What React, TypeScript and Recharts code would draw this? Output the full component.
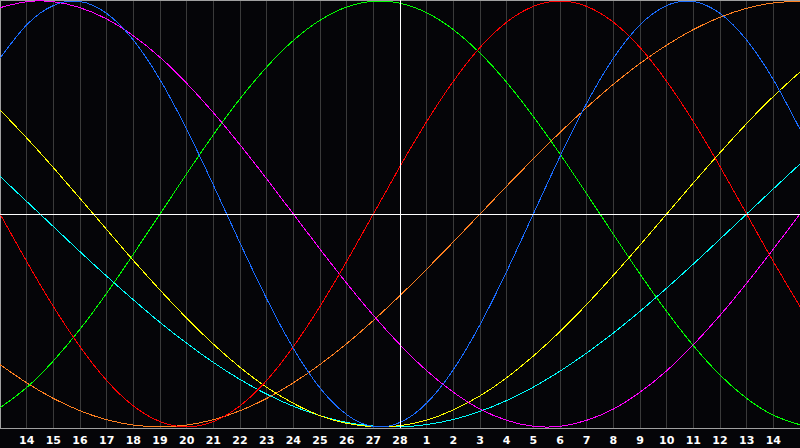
import React from 'react';
import {
  LineChart,
  Line,
  XAxis,
  YAxis,
  CartesianGrid,
  ReferenceLine,
} from 'recharts';

// Day labels along the bottom (first and last columns have no label)
const days = [
  '13', '14', '15', '16', '17', '18', '19', '20', '21', '22', '23', '24', '25', '26', '27', '28',
  '1', '2', '3', '4', '5', '6', '7', '8', '9', '10', '11', '12', '13', '14', '15',
];

// Cycle values, one per day, -100 .. 100
const physical = [
  73.1, 88.8, 97.9, 99.8, 94.2, 81.7, 63.1, 39.8, 13.6, -13.6, -39.8, -63.1, -81.7, -94.2, -99.8, -97.9,
  -88.8, -73.1, -52.0, -27.0, 0, 27.0, 52.0, 73.1, 88.8, 97.9, 99.8, 94.2, 81.7, 63.1, 39.8,
];
const emotional = [
  0, -22.3, -43.4, -62.3, -78.2, -90.1, -97.5, -100, -97.5, -90.1, -78.2, -62.3, -43.4, -22.3, 0, 22.3,
  43.4, 62.3, 78.2, 90.1, 97.5, 100, 97.5, 90.1, 78.2, 62.3, 43.4, 22.3, 0, -22.3, -43.4,
];
const intellectual = [
  -91.0, -81.5, -69.0, -54.1, -37.2, -18.9, 0, 18.9, 37.2, 54.1, 69.0, 81.5, 91.0, 97.2, 99.9, 99.0,
  94.5, 86.6, 75.6, 61.8, 45.8, 28.2, 9.5, -9.5, -28.2, -45.8, -61.8, -75.6, -86.6, -94.5, -99.0,
];
const intuitive = [
  96.9, 99.7, 99.7, 96.9, 91.6, 83.7, 73.6, 61.4, 47.6, 32.5, 16.5, 0, -16.5, -32.5, -47.6, -61.4,
  -73.6, -83.7, -91.6, -96.9, -99.7, -99.7, -96.9, -91.6, -83.7, -73.6, -61.4, -47.6, -32.5, -16.5, 0,
];
const aesthetic = [
  48.9, 35.7, 21.8, 7.3, -7.3, -21.8, -35.7, -48.9, -61.1, -72.0, -81.4, -88.9, -94.7, -98.3, -99.9, -99.4,
  -96.8, -92.0, -85.4, -76.9, -66.7, -55.2, -42.5, -28.8, -14.6, 0, 14.6, 28.8, 42.5, 55.2, 66.7,
];
const awareness = [
  -70.7, -79.3, -86.6, -92.4, -96.6, -99.1, -100, -99.1, -96.6, -92.4, -86.6, -79.3, -70.7, -60.9, -50.0, -38.3,
  -25.9, -13.1, 0, 13.1, 25.9, 38.3, 50.0, 60.9, 70.7, 79.3, 86.6, 92.4, 96.6, 99.1, 100,
];
const spiritual = [
  17.7, 5.9, -5.9, -17.7, -29.2, -40.3, -50.9, -60.7, -69.7, -77.7, -84.6, -90.3, -94.7, -97.9, -99.6, -100,
  -98.9, -96.5, -92.7, -87.6, -81.3, -73.8, -65.3, -55.9, -45.7, -34.8, -23.5, -11.8, 0, 11.8, 23.5,
];

const data = days.map((day, i) => ({
  i,
  day,
  physical: physical[i],
  emotional: emotional[i],
  intellectual: intellectual[i],
  intuitive: intuitive[i],
  aesthetic: aesthetic[i],
  awareness: awareness[i],
  spiritual: spiritual[i],
}));

const tickIdx = days.map((_, i) => i).slice(1, days.length - 1);

const series = [
  { key: 'spiritual', color: '#00ffff' },
  { key: 'awareness', color: '#ff8020' },
  { key: 'aesthetic', color: '#ffff00' },
  { key: 'intuitive', color: '#ff00ff' },
  { key: 'intellectual', color: '#00ff00' },
  { key: 'emotional', color: '#ff0000' },
  { key: 'physical', color: '#1a6cff' },
];

const App: React.FC = () => {
  return (
    <div style={{ position: 'fixed', left: 0, top: 0, width: 800, height: 448, background: '#050508' }}>
      <LineChart width={800} height={448} data={data} margin={{ top: 0, right: 0, left: 0, bottom: 0 }}>
        <CartesianGrid horizontal={false} stroke="#3a3a3a" shapeRendering="crispEdges" />
        <XAxis
          dataKey="i"
          type="number"
          domain={[0, 30]}
          ticks={tickIdx}
          interval={0}
          height={20}
          tickLine={false}
          axisLine={{ stroke: '#a0a0a0', shapeRendering: 'crispEdges' }}
          tickFormatter={(v: number) => days[v]}
          tick={{ fill: '#ffffff', fontSize: 11, fontWeight: 'bold', fontFamily: 'DejaVu Sans' }}
        />
        <YAxis hide domain={[-100.5, 100.5]} />
        <ReferenceLine x={0} stroke="#a0a0a0" shapeRendering="crispEdges" />
        <ReferenceLine y={100.5} stroke="#a0a0a0" shapeRendering="crispEdges" />
        {series.map((s) => (
          <Line
            key={s.key}
            type="natural"
            dataKey={s.key}
            stroke={s.color}
            strokeWidth={1}
            dot={false}
            activeDot={false}
            shapeRendering="crispEdges"
            isAnimationActive={false}
          />
        ))}
        <ReferenceLine x={15} stroke="#ffffff" shapeRendering="crispEdges" />
        <ReferenceLine y={0} stroke="#ffffff" shapeRendering="crispEdges" />
      </LineChart>
    </div>
  );
};

export default App;
